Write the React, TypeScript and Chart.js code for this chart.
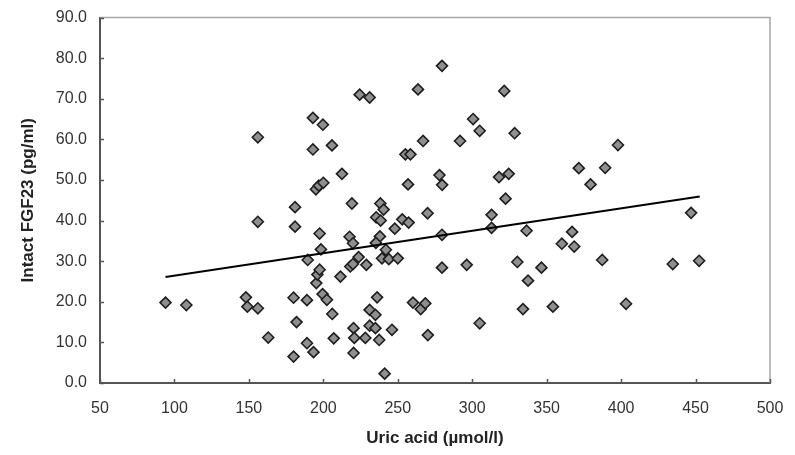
import React, { useEffect, useRef } from "react";
import { Chart, registerables } from "chart.js";

Chart.register(...registerables);

// Uric acid (µmol/l)
const uricAcid: number[] = [
  94, 108, 148, 149, 156, 156, 156, 163, 180, 180,
  181, 181, 182, 189, 189, 189.5, 193, 193, 193.4, 195.3,
  196, 197.5, 197.5, 198.4, 199.5, 202.4, 199.7, 195, 197, 200,
  205.8, 206, 207, 211.5, 212.5, 217.6, 219.9, 218.1, 219.9, 219.2,
  220.3, 220.8, 220.3, 223.7, 224.4, 228.2, 228.9, 231.1, 231.1, 231.1,
  235, 235, 236.1, 237.5, 241.2, 238, 235.3, 239.4, 242, 244,
  246.1, 248, 250, 238.3, 240.5, 235.5, 238.5, 253, 257.3, 255.1,
  258.5, 256.9, 263.6, 267, 270, 260.2, 265.4, 268.5, 270.2, 278,
  279.8, 279.7, 279.7, 279.7, 291.8, 296.3, 300.6, 305, 305, 313,
  313, 318, 321.5, 324.5, 322.4, 328.5, 330.3, 334.1, 336.5, 337.5,
  346.5, 354.2, 360.2, 367.1, 368.5, 371.6, 379.5, 387.3, 389.3, 397.9,
  403.3, 434.7, 447, 452.4,
];

// Intact FGF23 (pg/ml)
const fgf23: number[] = [
  19.8, 19.2, 21.1, 18.8, 18.4, 39.7, 60.5, 11.2, 21.0, 6.5,
  43.3, 38.5, 15.0, 20.4, 9.8, 30.3, 65.3, 57.5, 7.6, 24.6,
  26.7, 27.9, 36.8, 32.9, 21.9, 20.5, 63.6, 47.7, 48.6, 49.3,
  58.5, 17.0, 11.0, 26.2, 51.5, 36.0, 34.4, 28.7, 29.3, 44.2,
  13.5, 11.1, 7.4, 31.0, 71.0, 11.1, 29.1, 18.0, 14.1, 70.3,
  16.8, 13.5, 21.1, 10.6, 2.3, 36.1, 34.5, 30.7, 32.8, 30.5,
  13.1, 38.0, 30.7, 44.2, 42.7, 40.8, 40.0, 40.3, 39.5, 56.3,
  56.3, 48.9, 72.3, 59.6, 41.8, 19.8, 18.2, 19.6, 11.8, 51.2,
  48.8, 78.1, 36.5, 28.4, 59.6, 29.1, 65.0, 62.1, 14.7, 41.4,
  38.2, 50.7, 71.9, 51.5, 45.4, 61.5, 29.8, 18.2, 37.5, 25.2,
  28.4, 18.8, 34.3, 37.2, 33.6, 52.9, 48.9, 30.3, 53.0, 58.6,
  19.5, 29.3, 41.9, 30.1,
];

// Trend line end points
const trendX: number[] = [94, 452.8];
const trendY: number[] = [26.1, 45.9];

const xTicks = { min: 50, max: 500, step: 50 };
const yTicks = { min: 0, max: 90, step: 10 };

const FONT = "'Liberation Sans', Arial, sans-serif";

export default function App() {
  const canvasRef = useRef<HTMLCanvasElement | null>(null);

  useEffect(() => {
    document.body.style.margin = "0";
    const canvas = canvasRef.current;
    if (!canvas) return;

    // Plot frame (top/right) and inward tick marks placed by the scales
    const framePlugin = {
      id: "framePlugin",
      beforeDatasetsDraw(chart: any) {
        const { ctx, chartArea } = chart;
        const xs = chart.scales.x;
        const ys = chart.scales.y;
        ctx.save();
        ctx.strokeStyle = "#a6a6a6";
        ctx.lineWidth = 1.5;
        ctx.beginPath();
        ctx.moveTo(chartArea.left, chartArea.top);
        ctx.lineTo(chartArea.right, chartArea.top);
        ctx.lineTo(chartArea.right, chartArea.bottom);
        ctx.stroke();

        ctx.strokeStyle = "#555555";
        ctx.lineWidth = 1.5;
        ctx.beginPath();
        xs.ticks.forEach((t: any) => {
          const px = Math.round(xs.getPixelForValue(t.value)) + 0.5;
          ctx.moveTo(px, chartArea.bottom);
          ctx.lineTo(px, chartArea.bottom - 4);
        });
        ys.ticks.forEach((t: any) => {
          const py = Math.round(ys.getPixelForValue(t.value)) + 0.5;
          ctx.moveTo(chartArea.left, py);
          ctx.lineTo(chartArea.left + 4, py);
        });
        ctx.stroke();
        ctx.restore();
      },
    };

    const points = uricAcid.map((x, i) => ({ x, y: fgf23[i] }));
    const trend = trendX.map((x, i) => ({ x, y: trendY[i] }));

    const chart = new Chart(canvas, {
      type: "scatter",
      data: {
        datasets: [
          {
            type: "scatter",
            data: points,
            pointStyle: "rectRot",
            pointRadius: 5.5,
            pointHoverRadius: 5.5,
            backgroundColor: "#8f8f8f",
            borderColor: "#1e1e1e",
            borderWidth: 1.6,
            order: 2,
          } as any,
          {
            type: "line",
            data: trend,
            showLine: true,
            borderColor: "#000000",
            borderWidth: 2,
            pointRadius: 0,
            fill: false,
            order: 1,
          } as any,
        ],
      },
      options: {
        animation: false,
        responsive: false,
        maintainAspectRatio: false,
        layout: { padding: { left: 14.5, right: 25, top: 17.5, bottom: 2 } },
        plugins: {
          legend: { display: false },
          tooltip: { enabled: false },
        },
        scales: {
          x: {
            type: "linear",
            min: xTicks.min,
            max: xTicks.max,
            afterFit: (scale: any) => {
              scale.height = 70;
              scale.paddingLeft = 0;
              scale.paddingRight = 0;
            },
            ticks: {
              stepSize: xTicks.step,
              color: "#333333",
              font: { family: FONT, size: 16 },
              padding: 16,
            },
            grid: {
              display: false,
              drawOnChartArea: false,
              drawTicks: false,
            },
            border: { display: true, color: "#555555", width: 2 },
            title: {
              display: true,
              text: "Uric acid (µmol/l)",
              color: "#222222",
              font: { family: FONT, size: 17, weight: "bold" },
              padding: { top: 4, bottom: 4 },
            },
          },
          y: {
            type: "linear",
            min: yTicks.min,
            max: yTicks.max,
            afterFit: (scale: any) => {
              scale.width = 85.5;
              scale.paddingTop = 0;
              scale.paddingBottom = 0;
            },
            ticks: {
              stepSize: yTicks.step,
              color: "#333333",
              font: { family: FONT, size: 16 },
              padding: 13,
              callback: (v: any) => Number(v).toFixed(1),
            },
            grid: {
              display: false,
              drawOnChartArea: false,
              drawTicks: false,
            },
            border: { display: true, color: "#555555", width: 2 },
            title: {
              display: true,
              text: "Intact FGF23 (pg/ml)",
              color: "#222222",
              font: { family: FONT, size: 17, weight: "bold" },
              padding: { top: 4, bottom: 4 },
            },
          },
        },
      },
      plugins: [framePlugin],
    });

    return () => chart.destroy();
  }, []);

  return (
    <div style={{ position: "absolute", left: 0, top: 0, width: 795, height: 455, background: "#ffffff" }}>
      <canvas ref={canvasRef} width={795} height={455} style={{ display: "block", width: 795, height: 455 }} />
    </div>
  );
}
